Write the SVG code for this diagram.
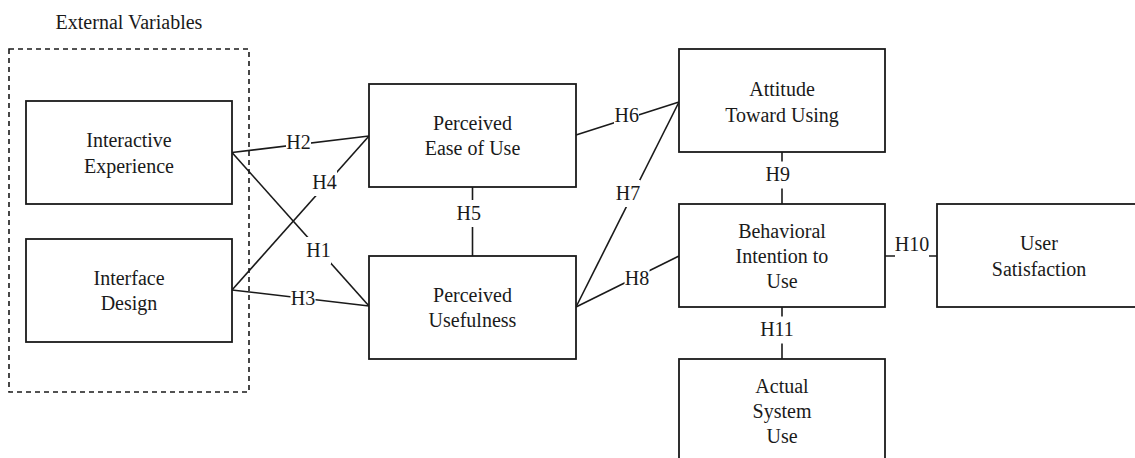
<svg xmlns="http://www.w3.org/2000/svg" width="1135" height="458" viewBox="0 0 1135 458">
<style>
.box{fill:#fff;stroke:#1a1a1a;stroke-width:1.8}
.ln{stroke:#1a1a1a;stroke-width:1.6;fill:none}
.lb{fill:#fff;stroke:none}
</style>
<rect width="1135" height="458" fill="#fff"/>
<g font-family="Liberation Serif, Times New Roman, serif" font-size="20" fill="#1a1a1a" text-anchor="middle">
<g id="external">
<text x="129" y="29">External Variables</text>
<rect x="9" y="49" width="240" height="343" fill="none" stroke="#1a1a1a" stroke-width="1.6" stroke-dasharray="5 4"/>
</g>
<g id="connectors">
<line class="ln" x1="232" y1="152.5" x2="369" y2="136"/>
<line class="ln" x1="232" y1="152.5" x2="369" y2="306"/>
<line class="ln" x1="232" y1="290" x2="369" y2="136"/>
<line class="ln" x1="232" y1="290" x2="369" y2="306"/>
<line class="ln" x1="472.5" y1="187" x2="472.5" y2="256"/>
<line class="ln" x1="576" y1="135" x2="679" y2="102"/>
<line class="ln" x1="576" y1="307" x2="679" y2="102"/>
<line class="ln" x1="576" y1="307" x2="679" y2="256"/>
<line class="ln" x1="782" y1="152" x2="782" y2="204"/>
<line class="ln" x1="885" y1="256" x2="937" y2="256"/>
<line class="ln" x1="782" y1="307" x2="782" y2="359"/>
<rect class="lb" x="286" y="129" width="25" height="24"/><text x="298.5" y="149">H2</text>
<rect class="lb" x="306" y="237" width="25" height="27"/><text x="318.5" y="257">H1</text>
<rect class="lb" x="312" y="169" width="25" height="27"/><text x="324.5" y="189">H4</text>
<rect class="lb" x="290.5" y="290" width="25" height="18"/><text x="303" y="305">H3</text>
<rect class="lb" x="456" y="200" width="25" height="27"/><text x="468.7" y="220">H5</text>
<rect class="lb" x="614" y="104" width="25" height="24"/><text x="626.7" y="121.7">H6</text>
<rect class="lb" x="615.5" y="180" width="25" height="27"/><text x="628" y="200">H7</text>
<rect class="lb" x="624.5" y="266" width="25" height="24"/><text x="637" y="285">H8</text>
<rect class="lb" x="765" y="161.5" width="25" height="27"/><text x="777.7" y="181">H9</text>
<rect class="lb" x="895" y="236" width="34" height="22"/><text x="912" y="251">H10</text>
<rect class="lb" x="760" y="316.5" width="34" height="27"/><text x="777" y="336">H11</text>
</g>
<g id="interactive-experience">
<rect class="box" x="26" y="101" width="206" height="103"/>
<text x="129" y="147">Interactive</text>
<text x="129" y="173">Experience</text>
</g>
<g id="interface-design">
<rect class="box" x="26" y="239" width="206" height="103"/>
<text x="129" y="285">Interface</text>
<text x="129" y="310">Design</text>
</g>
<g id="perceived-ease">
<rect class="box" x="369" y="84" width="207" height="103"/>
<text x="472.5" y="130">Perceived</text>
<text x="472.5" y="155">Ease of Use</text>
</g>
<g id="perceived-usefulness">
<rect class="box" x="369" y="256" width="207" height="103"/>
<text x="472.5" y="302">Perceived</text>
<text x="472.5" y="327">Usefulness</text>
</g>
<g id="attitude">
<rect class="box" x="679" y="49" width="206" height="103"/>
<text x="782" y="96">Attitude</text>
<text x="782" y="121.7">Toward Using</text>
</g>
<g id="behavioral-intention">
<rect class="box" x="679" y="204" width="206" height="103"/>
<text x="782" y="238.3">Behavioral</text>
<text x="782" y="263.3">Intention to</text>
<text x="782" y="288">Use</text>
</g>
<g id="user-satisfaction">
<rect class="box" x="937" y="204" width="210" height="103"/>
<text x="1039" y="250">User</text>
<text x="1039" y="276">Satisfaction</text>
</g>
<g id="actual-use">
<rect class="box" x="679" y="359" width="206" height="110"/>
<text x="782" y="393">Actual</text>
<text x="782" y="418">System</text>
<text x="782" y="443">Use</text>
</g>
</g>
</svg>
